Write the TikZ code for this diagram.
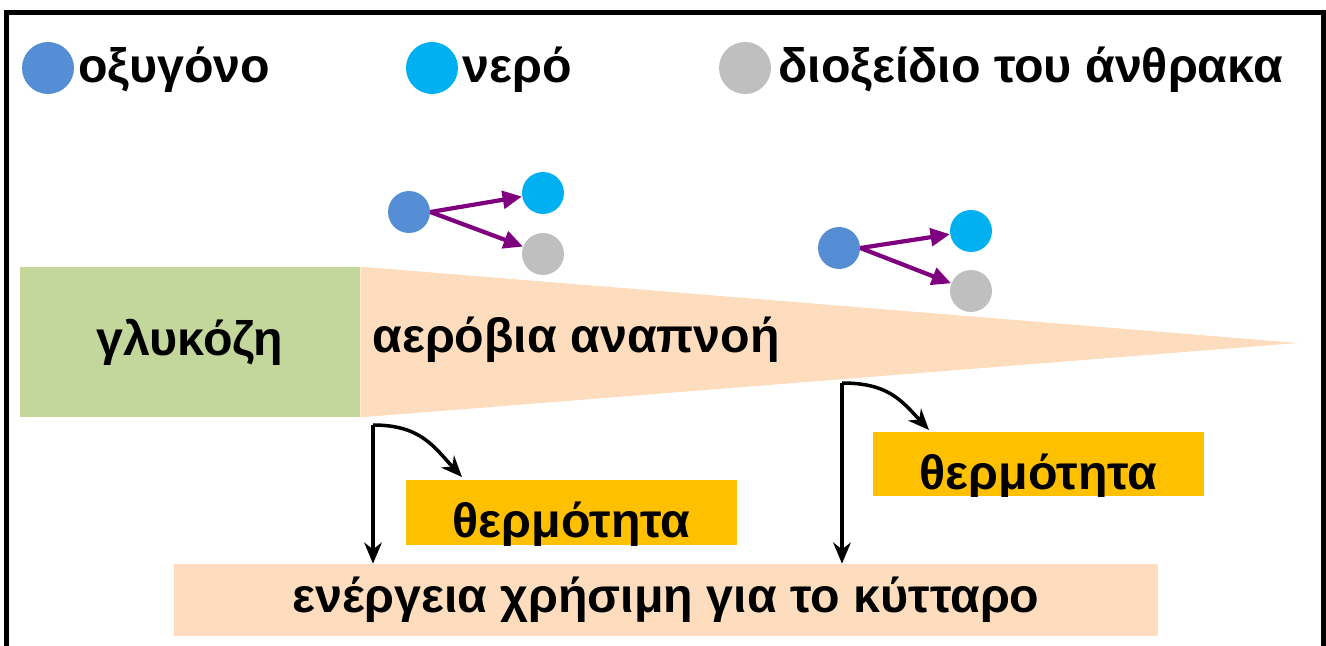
\documentclass[tikz,border=0pt]{standalone}
\usepackage{fontspec}
\setmainfont{Liberation Sans}
\usetikzlibrary{positioning, arrows.meta, calc}

\definecolor{oxyblue}{HTML}{558ED5}
\definecolor{watercyan}{HTML}{00B0F0}
\definecolor{cogrey}{HTML}{BFBFBF}
\definecolor{glugreen}{HTML}{C3D69B}
\definecolor{peach}{HTML}{FDDDBD}
\definecolor{heatgold}{HTML}{FFC000}
\definecolor{molpurple}{HTML}{7F007F}

\tikzset{
  bigtxt/.style={font=\fontsize{27.5}{32}\selectfont\bfseries, inner sep=0pt},
  ball/.style={circle, fill=#1, inner sep=0pt, minimum size=0.84cm},
  keyball/.style={circle, fill=#1, inner sep=0pt, minimum size=1.04cm},
  molarrow/.style={draw=molpurple, line width=2.4pt, -{Triangle[length=11pt,width=10pt]}},
  heatarrow/.style={draw=black, line width=2pt, -{Stealth[length=12pt,width=10pt]}},
  heatbox/.style={fill=heatgold, minimum width=6.62cm, minimum height=1.3cm, inner sep=0pt,
    path picture={\node[bigtxt, anchor=base] at ($(path picture bounding box.center)+(0,25)$) {θερμότητα};}}
}

\begin{document}
\begin{tikzpicture}[x=0.02cm, y=-0.02cm]
\useasboundingbox (0,0) rectangle (1326,646);

% Legend
\node[keyball=oxyblue] (keyox) at (48,68) {};
\node[bigtxt, anchor=base west] (keyoxtxt) at (78,82) {οξυγόνο};
\node[keyball=watercyan] (keywat) at (432,68) {};
\node[bigtxt, anchor=base west] (keywattxt) at (462,82) {νερό};
\node[keyball=cogrey] (keyco) at (745,68) {};
\node[bigtxt, anchor=base west] (keycotxt) at (778,82) {διοξείδιο του άνθρακα};

% Glucose and respiration wedge
\node[bigtxt, fill=glugreen, minimum width=6.8cm, minimum height=3cm] (glu) at (190,342) {γλυκόζη};
\fill[peach] (glu.north east) -- (1298,343) -- (glu.south east) -- cycle;
\node[bigtxt, anchor=base west] (aero) at (372,352) {αερόβια αναπνοή};

% Molecules, first group
\node[ball=oxyblue] (ox1) at (409,212) {};
\node[ball=watercyan] (wat1) at (543,193) {};
\node[ball=cogrey] (co1) at (543,254) {};
\draw[molarrow] (ox1.east) -- (wat1);
\draw[molarrow] (ox1.east) -- (co1);

% Molecules, second group
\node[ball=oxyblue] (ox2) at (839,248) {};
\node[ball=watercyan] (wat2) at (971,231) {};
\node[ball=cogrey] (co2) at (971,291) {};
\draw[molarrow] (ox2.east) -- (wat2);
\draw[molarrow] (ox2.east) -- (co2);

% Heat and useful energy
\node[heatbox] (heat1) at (571.5,512.5) {};
\node[heatbox] (heat2) at (1038.5,464) {};
\node[bigtxt, fill=peach, minimum width=19.68cm, minimum height=1.44cm] (energy) at (666,600) {ενέργεια χρήσιμη για το κύτταρο};

\coordinate (fork1) at (373,425);
\coordinate (fork2) at (842,383);
\coordinate (tip1) at (462,477);
\coordinate (tip2) at (929,430);
\draw[heatarrow] (fork1) -- (fork1 |- energy.north);
\draw[heatarrow] (fork1) .. controls ($(fork1)+(48,0)$) and ($(tip1)+(-28,-30)$) .. (tip1);
\draw[heatarrow] (fork2) -- (fork2 |- energy.north);
\draw[heatarrow] (fork2) .. controls ($(fork2)+(46,0)$) and ($(tip2)+(-28,-30)$) .. (tip2);

% Frame
\draw[line width=2.8pt] (6.5,646) -- (6.5,12.5) -- (1323.5,12.5) -- (1323.5,646);
\end{tikzpicture}
\end{document}
